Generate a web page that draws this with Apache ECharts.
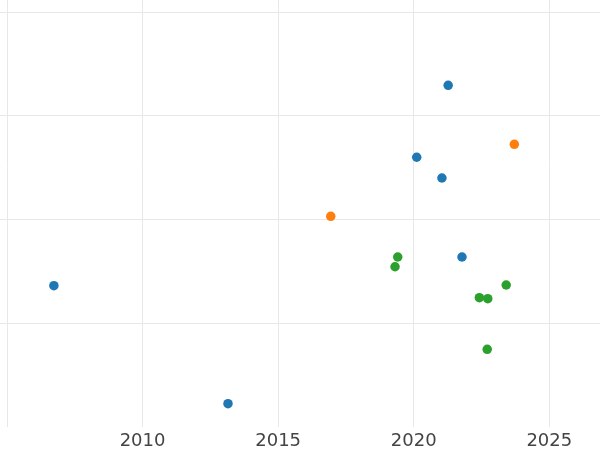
<!DOCTYPE html>
<html>
<head>
<meta charset="utf-8">
<script src="https://cdn.jsdelivr.net/npm/echarts@6/dist/echarts.min.js"></script>
<style>
html,body{margin:0;padding:0;background:#fff;overflow:hidden;width:600px;height:450px}
#wrap{position:relative;width:600px;height:450px;overflow:hidden}
#chart{position:absolute;left:-140px;top:-100px;width:840px;height:550px}
</style>
</head>
<body>
<div id="wrap"><div id="chart"></div></div>
<script>
var xTickLabels = ['2010','2015','2020','2025'];
var blueYears  = [2021.27, 2020.11, 2021.04, 2021.78, 2006.73, 2013.15];
var blueVals   = [3.293, 2.600, 2.400, 1.639, 1.362, 0.225];
var orangeYears = [2023.71, 2016.94];
var orangeVals  = [2.725, 2.031];
var greenYears = [2019.41, 2019.31, 2022.42, 2022.73, 2023.41, 2022.71];
var greenVals  = [1.639, 1.545, 1.247, 1.237, 1.369, 0.749];

function pairs(xs, ys){ return xs.map(function(x,i){ return [x, ys[i]]; }); }

var chart = echarts.init(document.getElementById('chart'), null, {renderer:'canvas'});
var gridColor = '#e8e8e8';
chart.setOption({
  animation: false,
  backgroundColor: '#ffffff',
  grid: { left: 11.4, right: 15.1, top: 8.2, bottom: 22.93, containLabel: false, outerBoundsMode: 'none' },
  xAxis: {
    type: 'value', min: 2000, max: 2030, interval: 5,
    axisLine: { show: false }, axisTick: { show: false },
    axisLabel: { color: '#444', fontFamily: 'DejaVu Sans', fontSize: 18, margin: 5,
      formatter: function(v){ var s = String(v); return xTickLabels.indexOf(s) >= 0 ? s : ''; } },
    splitLine: { show: true, lineStyle: { color: gridColor, width: 1 } }
  },
  yAxis: {
    type: 'value', min: 0, max: 5, interval: 1,
    axisLine: { show: false }, axisTick: { show: false }, axisLabel: { show: false },
    splitLine: { show: true, showMinLine: false, lineStyle: { color: gridColor, width: 1 } }
  },
  series: [
    { type: 'scatter', symbolSize: 9.5, itemStyle: { color: '#1f77b4', opacity: 1 }, data: pairs(blueYears, blueVals) },
    { type: 'scatter', symbolSize: 9.5, itemStyle: { color: '#ff7f0e', opacity: 1 }, data: pairs(orangeYears, orangeVals) },
    { type: 'scatter', symbolSize: 9.5, itemStyle: { color: '#2ca02c', opacity: 1 }, data: pairs(greenYears, greenVals) }
  ]
});
</script>
</body>
</html>
